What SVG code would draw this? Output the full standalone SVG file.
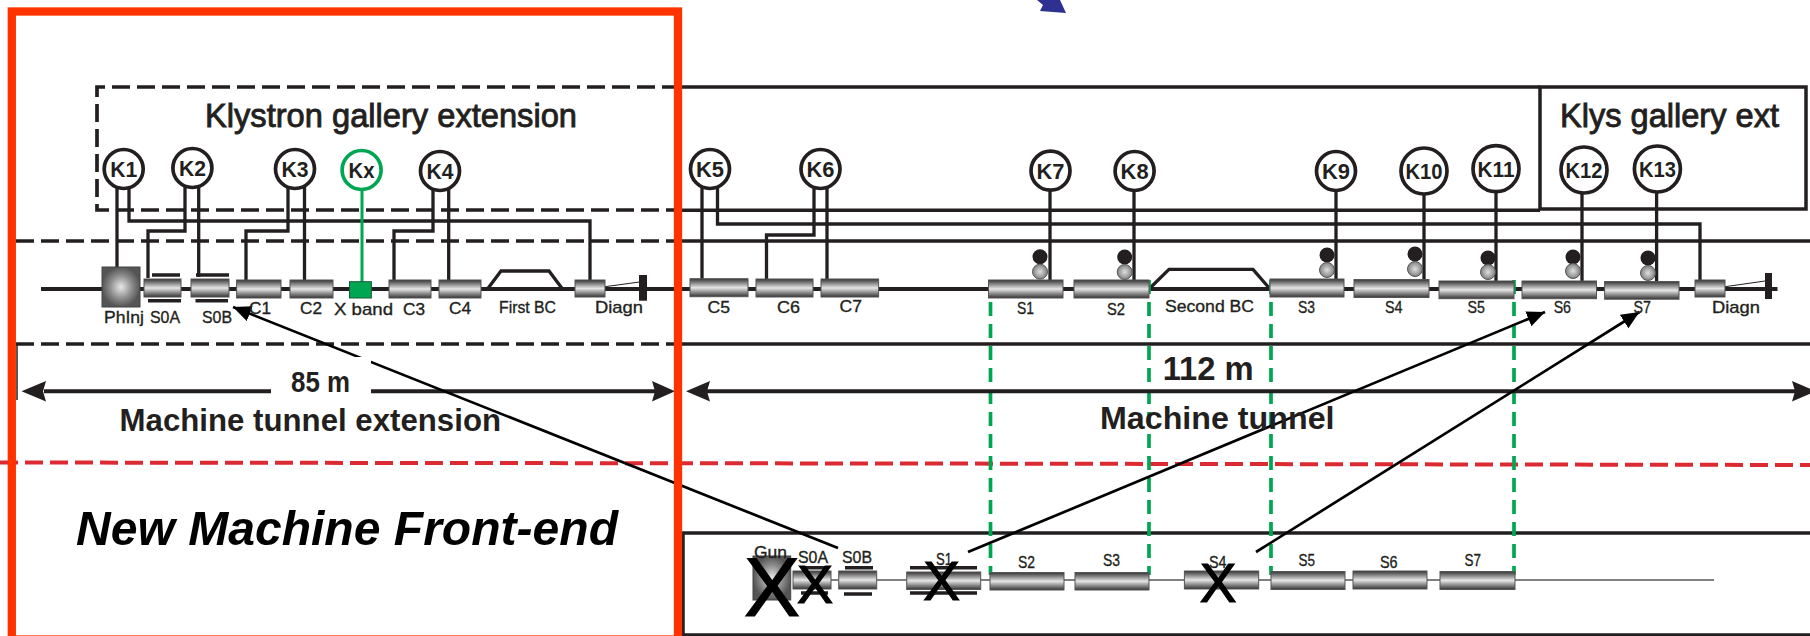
<svg xmlns="http://www.w3.org/2000/svg" width="1810" height="636" viewBox="0 0 1810 636">
<style>
text{font-family:"Liberation Sans",Arial,sans-serif;fill:#231f20}
.lb{font-size:17px;stroke:#231f20;stroke-width:0.35}
.kt{font-size:22px;font-weight:bold;text-anchor:middle}
.ti{font-size:33px;stroke:#231f20;stroke-width:0.9}
.xm{fill:#000;text-anchor:middle;stroke:#000;stroke-width:1.2}
.k{fill:#fff;stroke:#231f20;stroke-width:3.7}
.kg{fill:#fff;stroke:#00a651;stroke-width:3.7}
.cav{fill:url(#cg);stroke:#555;stroke-width:1}
.bar{stroke:#231f20;stroke-width:3.5}
.w{fill:none;stroke:#231f20;stroke-width:3.3;stroke-linejoin:miter}
.w2{fill:none;stroke:#231f20;stroke-width:4}
.sol{fill:none;stroke:#231f20;stroke-width:3.5}
.dash{fill:none;stroke:#231f20;stroke-width:3.7;stroke-dasharray:18 7}
.gd{fill:none;stroke:#00a651;stroke-width:3.7;stroke-dasharray:14 8}
.ar{fill:none;stroke:#000;stroke-width:2.7}
.dk{fill:#231f20}
.gr{fill:url(#dg);stroke:#555;stroke-width:1}
</style>
<defs>
<linearGradient id="cg" x1="0" y1="0" x2="0" y2="1"><stop offset="0" stop-color="#353333"/><stop offset="0.5" stop-color="#e6e6e6"/><stop offset="1" stop-color="#353333"/></linearGradient>
<radialGradient id="pg"><stop offset="0" stop-color="#e8e8e8"/><stop offset="0.6" stop-color="#8a8a8a"/><stop offset="1" stop-color="#555"/></radialGradient>
<radialGradient id="dg"><stop offset="0" stop-color="#e0e0e0"/><stop offset="1" stop-color="#808080"/></radialGradient>
<marker id="ah" markerUnits="userSpaceOnUse" markerWidth="20" markerHeight="20" refX="18" refY="8" orient="auto"><path d="M0 0L18 8L0 16Z" fill="#000"/></marker>
</defs>
<rect width="1810" height="636" fill="#fff"/>
<path id="blue-mark" d="M1037 0L1043 5L1040 11L1066 13L1060 0Z" fill="#2e3192"/>

<g id="frame-lines">
<path class="sol" d="M682 87H1540M682 210.300H1540M682 241H1810M682 344H1810M683 636V533H1810M683 635H1810"/>
<path class="dash" d="M680 87H97V210H680M16 241H682M16 344H682"/>
<path d="M17 344V400" stroke="#231f20" stroke-width="1.5" fill="none"/>
<path d="M0 462.500L905 463.500L1810 465" fill="none" stroke="#dc2a32" stroke-width="4" stroke-dasharray="18 7"/>
</g>

<g id="connectors">
<path class="w2" d="M41 289H1777.500"/>
<path class="w" d="M117 187V267M129 187V221H590V280M185 187V231H148V278M198.700 187V277M288 187V231H246V280M304.500 187V280M433 187V231H394V280M448.700 187V280"/>
<path fill="none" stroke="#00a651" stroke-width="3" d="M362 190V282"/>
<path class="w" d="M702 187V280M717.500 187V224H1700V280M814 187V235H766.500V280M827 187V280M1050 190V281M1134 190V280M1336 190V279M1424 192V280M1496 191V281M1582 192V281M1656.600 191V281"/>
<path class="w" d="M487.500 289L501 271H549L562.500 289M1149 289L1169 269.300H1253L1270 289"/>
<path d="M605 286.700L643 281.500M1725 286.700L1765 281" stroke="#231f20" stroke-width="1" fill="none"/>
<path d="M794 580H1714" stroke="#808080" stroke-width="2" fill="none"/>
<path class="gd" d="M990.500 280V575M1149 280V575M1271 280V575M1514 280V575"/>
<path class="w2" d="M44 391.300H271M371 391.300H655M705 391.300H1795"/>
<path class="dk" d="M21.500 391.300L46 381L43 391.300L46 401.500ZM675 391.300L652 381L655 391.300L652 401.500ZM686 391.300L710 381L707 391.300L710 401.500ZM1816 391.300L1792 381L1795 391.300L1792 401.500Z"/>
<path class="ar" marker-end="url(#ah)" d="M838 548L233 307"/>
<path class="ar" marker-end="url(#ah)" d="M968 552L1545 312"/>
<path class="ar" marker-end="url(#ah)" d="M1256 552L1639.400 312"/>
<rect x="271" y="357" width="100" height="42" fill="#fff"/>
</g>

<g id="K1"><circle class="k" cx="123.700" cy="169" r="19.500"/><text class="kt" x="123.700" y="177" textLength="27" lengthAdjust="spacingAndGlyphs">K1</text></g>
<g id="K2"><circle class="k" cx="192.400" cy="168" r="19.500"/><text class="kt" x="192.400" y="176" textLength="27" lengthAdjust="spacingAndGlyphs">K2</text></g>
<g id="K3"><circle class="k" cx="295" cy="169" r="19.500"/><text class="kt" x="295" y="177" textLength="27" lengthAdjust="spacingAndGlyphs">K3</text></g>
<g id="Kx"><circle class="kg" cx="361.600" cy="170" r="19.500"/><text class="kt" x="361.600" y="178" textLength="26" lengthAdjust="spacingAndGlyphs">Kx</text></g>
<g id="K4"><circle class="k" cx="440" cy="171" r="19.500"/><text class="kt" x="440" y="179" textLength="27" lengthAdjust="spacingAndGlyphs">K4</text></g>
<g id="K5"><circle class="k" cx="710" cy="169" r="19.500"/><text class="kt" x="710" y="177" textLength="28" lengthAdjust="spacingAndGlyphs">K5</text></g>
<g id="K6"><circle class="k" cx="820.500" cy="169" r="19.500"/><text class="kt" x="820.500" y="177" textLength="28" lengthAdjust="spacingAndGlyphs">K6</text></g>
<g id="K7"><circle class="k" cx="1050.500" cy="170.700" r="19.500"/><text class="kt" x="1050.500" y="178.700" textLength="28" lengthAdjust="spacingAndGlyphs">K7</text></g>
<g id="K8"><circle class="k" cx="1134.600" cy="171" r="19.500"/><text class="kt" x="1134.600" y="179" textLength="28" lengthAdjust="spacingAndGlyphs">K8</text></g>
<g id="K9"><circle class="k" cx="1336" cy="171" r="19.500"/><text class="kt" x="1336" y="179" textLength="28" lengthAdjust="spacingAndGlyphs">K9</text></g>
<g id="K10"><circle class="k" cx="1424" cy="171" r="23"/><text class="kt" x="1424" y="179" textLength="37" lengthAdjust="spacingAndGlyphs">K10</text></g>
<g id="K11"><circle class="k" cx="1496" cy="168.700" r="23"/><text class="kt" x="1496" y="176.700" textLength="37" lengthAdjust="spacingAndGlyphs">K11</text></g>
<g id="K12"><circle class="k" cx="1584" cy="170" r="23"/><text class="kt" x="1584" y="178" textLength="37" lengthAdjust="spacingAndGlyphs">K12</text></g>
<g id="K13"><circle class="k" cx="1657.400" cy="169" r="23"/><text class="kt" x="1657.400" y="177" textLength="37" lengthAdjust="spacingAndGlyphs">K13</text></g>

<g id="klystron-ext-label"><text class="ti" x="205" y="127" textLength="372" lengthAdjust="spacingAndGlyphs">Klystron gallery extension</text></g>
<g id="klys-ext"><rect x="1540" y="87" width="266" height="122" fill="none" stroke="#231f20" stroke-width="3.500"/><text class="ti" x="1560" y="127" textLength="219" lengthAdjust="spacingAndGlyphs">Klys gallery ext</text></g>

<g id="PhInj"><rect x="102" y="267" width="38" height="40" fill="url(#pg)" stroke="#444"/><text class="lb" x="104" y="322.700" textLength="40" lengthAdjust="spacingAndGlyphs">PhInj</text></g>
<g id="S0A"><rect class="cav" x="144" y="279" width="37" height="18"/><path class="bar" d="M152 275H180M148 300.700H181"/><text class="lb" x="150" y="322.700" textLength="30" lengthAdjust="spacingAndGlyphs">S0A</text></g>
<g id="S0B"><rect class="cav" x="191" y="279" width="38" height="18"/><path class="bar" d="M196 275H229M195.500 300.700H228"/><text class="lb" x="202" y="322.700" textLength="30" lengthAdjust="spacingAndGlyphs">S0B</text></g>
<g id="C1"><rect class="cav" x="236.600" y="280" width="44.400" height="18"/><text class="lb" x="249" y="314" textLength="22" lengthAdjust="spacingAndGlyphs">C1</text></g>
<g id="C2"><rect class="cav" x="290" y="280" width="43" height="18"/><text class="lb" x="300" y="314" textLength="22" lengthAdjust="spacingAndGlyphs">C2</text></g>
<g id="Xband"><rect x="349.500" y="281.700" width="21.900" height="16.300" fill="#00a651" stroke="#1a5c3a"/><text class="lb" x="334" y="314.700" textLength="59" lengthAdjust="spacingAndGlyphs">X band</text></g>
<g id="C3"><rect class="cav" x="389" y="280" width="42" height="18"/><text class="lb" x="403" y="315" textLength="22" lengthAdjust="spacingAndGlyphs">C3</text></g>
<g id="C4"><rect class="cav" x="439" y="280" width="42" height="18"/><text class="lb" x="449" y="314" textLength="22" lengthAdjust="spacingAndGlyphs">C4</text></g>
<g id="FirstBC"><text class="lb" x="499" y="313" textLength="57" lengthAdjust="spacingAndGlyphs">First BC</text></g>
<g id="Diagn1"><rect class="cav" x="575" y="280" width="30" height="17"/><rect class="dk" x="639" y="275" width="8" height="25.700"/><text class="lb" x="595" y="312.700" textLength="48" lengthAdjust="spacingAndGlyphs">Diagn</text></g>

<g id="C5"><rect class="cav" x="690" y="278.700" width="58" height="18"/><text class="lb" x="707.500" y="312.700" textLength="22.500" lengthAdjust="spacingAndGlyphs">C5</text></g>
<g id="C6"><rect class="cav" x="756" y="279" width="57" height="18"/><text class="lb" x="777" y="313" textLength="23" lengthAdjust="spacingAndGlyphs">C6</text></g>
<g id="C7"><rect class="cav" x="821" y="279" width="57.600" height="18"/><text class="lb" x="839.600" y="312" textLength="22.400" lengthAdjust="spacingAndGlyphs">C7</text></g>
<g id="S1"><rect class="cav" x="988.500" y="280" width="74.500" height="18"/><circle class="dk" cx="1040" cy="256.700" r="7.500"/><circle class="gr" cx="1040" cy="271.700" r="7.500"/><text class="lb" x="1017" y="314" textLength="17" lengthAdjust="spacingAndGlyphs">S1</text></g>
<g id="S2"><rect class="cav" x="1074" y="280" width="75" height="18"/><circle class="dk" cx="1124.700" cy="257" r="7.500"/><circle class="gr" cx="1124.700" cy="272" r="7.500"/><text class="lb" x="1107" y="315" textLength="18" lengthAdjust="spacingAndGlyphs">S2</text></g>
<g id="SecondBC"><text class="lb" x="1165" y="312" textLength="89" lengthAdjust="spacingAndGlyphs">Second BC</text></g>
<g id="S3"><rect class="cav" x="1270" y="279" width="74" height="18"/><circle class="dk" cx="1327" cy="255" r="7.500"/><circle class="gr" cx="1327" cy="270" r="7.500"/><text class="lb" x="1298" y="313" textLength="17" lengthAdjust="spacingAndGlyphs">S3</text></g>
<g id="S4"><rect class="cav" x="1354" y="279.500" width="75" height="18"/><circle class="dk" cx="1415" cy="254" r="7.500"/><circle class="gr" cx="1415" cy="269" r="7.500"/><text class="lb" x="1385" y="313" textLength="17.500" lengthAdjust="spacingAndGlyphs">S4</text></g>
<g id="S5"><rect class="cav" x="1439" y="281" width="75" height="17.700"/><circle class="dk" cx="1488" cy="258" r="7.500"/><circle class="gr" cx="1488" cy="272" r="7.500"/><text class="lb" x="1467.600" y="313" textLength="17.400" lengthAdjust="spacingAndGlyphs">S5</text></g>
<g id="S6"><rect class="cav" x="1522" y="281" width="74.500" height="17.700"/><circle class="dk" cx="1573" cy="257" r="7.500"/><circle class="gr" cx="1573" cy="271" r="7.500"/><text class="lb" x="1553.700" y="313" textLength="17.300" lengthAdjust="spacingAndGlyphs">S6</text></g>
<g id="S7"><rect class="cav" x="1604.600" y="281.500" width="74.400" height="17.700"/><circle class="dk" cx="1648" cy="258" r="7.500"/><circle class="gr" cx="1648" cy="273" r="7.500"/><text class="lb" x="1633.600" y="313" textLength="17.400" lengthAdjust="spacingAndGlyphs">S7</text></g>
<g id="Diagn2"><rect class="cav" x="1695" y="280" width="30" height="17"/><rect class="dk" x="1765" y="273" width="7" height="26"/><text class="lb" x="1712" y="313" textLength="48" lengthAdjust="spacingAndGlyphs">Diagn</text></g>

<g id="dims">
<text x="291" y="391.700" font-size="29" font-weight="bold" textLength="59" lengthAdjust="spacingAndGlyphs">85 m</text>
<text x="1162.700" y="380" font-size="33" font-weight="bold" textLength="91" lengthAdjust="spacingAndGlyphs">112 m</text>
<text x="119.600" y="430.700" font-size="32" font-weight="bold" textLength="381.400" lengthAdjust="spacingAndGlyphs">Machine tunnel extension</text>
<text x="1100" y="429" font-size="32" font-weight="bold" textLength="234.500" lengthAdjust="spacingAndGlyphs">Machine tunnel</text>
<text x="76" y="545" font-size="48" font-weight="bold" font-style="italic" style="fill:#000" textLength="542" lengthAdjust="spacingAndGlyphs">New Machine Front-end</text>
</g>

<g id="bottom-row">
<g id="Gun2"><rect x="753" y="556" width="37.700" height="44" fill="url(#pg)" stroke="#444"/><text class="lb" x="754" y="558" textLength="33" lengthAdjust="spacingAndGlyphs">Gun</text><text class="xm" x="772" y="615.700" font-size="84">X</text></g>
<g id="S0A2"><rect class="cav" x="793" y="571" width="38" height="18"/><path class="bar" d="M805 567.700H825M801 593H828"/><text class="lb" x="798" y="563" textLength="30" lengthAdjust="spacingAndGlyphs">S0A</text><text class="xm" x="815" y="603" font-size="54">X</text></g>
<g id="S0B2"><rect class="cav" x="838.700" y="571" width="38" height="18"/><path class="bar" d="M845 567.700H873M844 594H872"/><text class="lb" x="842" y="563" textLength="30" lengthAdjust="spacingAndGlyphs">S0B</text></g>
<g id="S12"><rect class="cav" x="906.700" y="572" width="74" height="17.500"/><path class="bar" d="M910 567.700H977M910 593H977"/><text class="lb" x="936" y="565" textLength="16" lengthAdjust="spacingAndGlyphs">S1</text><text class="xm" x="941.500" y="600" font-size="55">X</text></g>
<g id="S22"><rect class="cav" x="990" y="572.500" width="74" height="17.500"/><text class="lb" x="1018" y="568" textLength="17" lengthAdjust="spacingAndGlyphs">S2</text></g>
<g id="S32"><rect class="cav" x="1075" y="572.500" width="74" height="17.500"/><text class="lb" x="1103" y="565.600" textLength="17" lengthAdjust="spacingAndGlyphs">S3</text></g>
<g id="S42"><rect class="cav" x="1184.400" y="571" width="74.300" height="18"/><text class="lb" x="1209" y="568" textLength="17.500" lengthAdjust="spacingAndGlyphs">S4</text><text class="xm" x="1218" y="602" font-size="55">X</text></g>
<g id="S52"><rect class="cav" x="1271" y="571.500" width="74" height="18"/><text class="lb" x="1298.500" y="565.700" textLength="16.500" lengthAdjust="spacingAndGlyphs">S5</text></g>
<g id="S62"><rect class="cav" x="1353" y="571" width="74" height="18"/><text class="lb" x="1380" y="568" textLength="17.600" lengthAdjust="spacingAndGlyphs">S6</text></g>
<g id="S72"><rect class="cav" x="1440" y="571.500" width="75" height="18"/><text class="lb" x="1464.600" y="565.700" textLength="16.400" lengthAdjust="spacingAndGlyphs">S7</text></g>
</g>

<rect id="red-frame" x="11.800" y="11.500" width="666.200" height="628" fill="none" stroke="#ff3300" stroke-width="8.300"/>
</svg>
